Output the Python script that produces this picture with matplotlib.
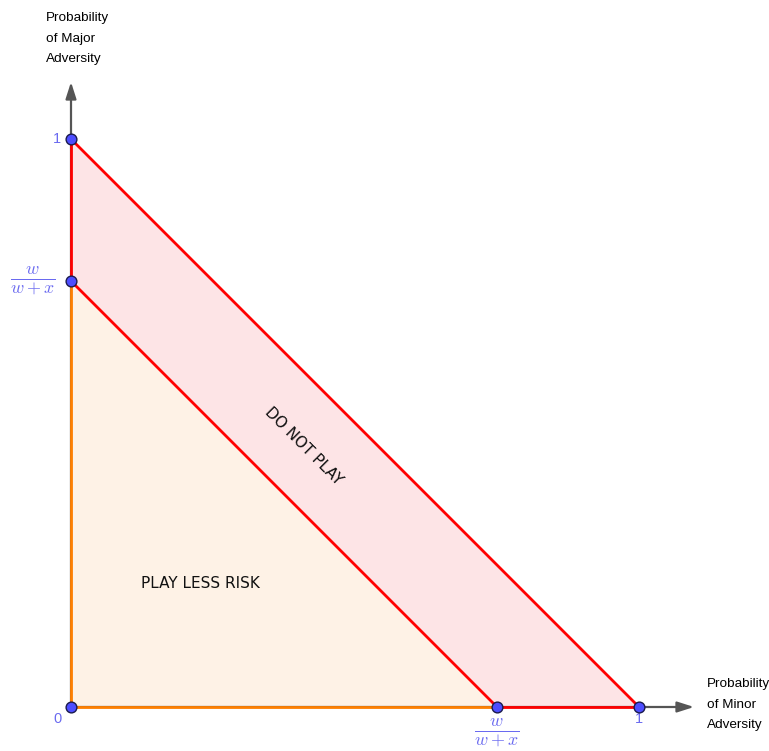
import matplotlib
matplotlib.use("Agg")
import matplotlib.pyplot as plt
from matplotlib.patches import Polygon

plt.rcParams["mathtext.fontset"] = "cm"

# Data
r = 0.75          # w/(w+x)
one = 1.0
outer = [(0, 0), (one, 0), (0, one)]
inner = [(0, 0), (r, 0), (0, r)]
points_x = [0, 0, 0, r, one]
points_y = [0, r, one, 0, 0]

W, H = 769, 751
ox, oy, unit = 71, 707, 568
fig = plt.figure(figsize=(W / 100, H / 100), dpi=100)
ax = fig.add_axes([0, 0, 1, 1])
ax.set_xlim(-ox / unit, (W - ox) / unit)
ax.set_ylim(-(H - oy) / unit, oy / unit)
ax.axis("off")

red = "#ff0000"
orange = "#ff8000"
blue_txt = "#6a6af0"

# fills
ax.add_patch(Polygon([(0, r), (0, one), (one, 0), (r, 0)], closed=True,
                     facecolor="#fde4e6", edgecolor="none", zorder=1))
ax.add_patch(Polygon(inner, closed=True, facecolor="#fef2e6", edgecolor="none", zorder=1))

def px(x):
    return (x - ox) / unit

def py(y):
    return (oy - y) / unit

# axes arrows
arrow = dict(arrowstyle="-|>,head_length=1.0,head_width=0.32", color="#555555", lw=1.6,
             shrinkA=0, shrinkB=0)
ax.annotate("", xy=(px(694), 0), xytext=(0, 0), arrowprops=arrow, zorder=2)
ax.annotate("", xy=(0, py(82)), xytext=(0, 0), arrowprops=arrow, zorder=2)

# boundary lines
ax.plot([0, r], [0, 0], color=orange, lw=2, zorder=3, solid_capstyle="butt")
ax.plot([0, 0], [0, r], color=orange, lw=2, zorder=3, solid_capstyle="butt")
ax.plot([0, r], [r, 0], color=red, lw=2, zorder=3)
ax.plot([0, 0], [r, one], color=red, lw=2, zorder=3)
ax.plot([r, one], [0, 0], color=red, lw=2, zorder=3)
ax.plot([0, one], [one, 0], color=red, lw=2, zorder=3)

# points
ax.scatter(points_x, points_y, s=60, facecolor="#4d4dff", edgecolor="#1a1a4d", linewidth=1.0, zorder=5)

# tick labels
for (x, y, s) in [(57, 139, "1"), (57, 719, "0"), (639, 719, "1")]:
    ax.text(px(x), py(y), s, color=blue_txt, fontsize=10.5, ha="center", va="center",
            family="Liberation Sans")
ax.text(px(33), py(281), r"$\frac{w}{w+x}$", color=blue_txt, fontsize=18.5, ha="center", va="center")
ax.text(px(497), py(733), r"$\frac{w}{w+x}$", color=blue_txt, fontsize=18.5, ha="center", va="center")

# axis titles
ax.text(px(46), py(12), "Probability\nof Major\nAdversity", fontsize=9.7, ha="left", va="top",
        family="Liberation Sans", linespacing=1.95)
ax.text(px(707), py(678), "Probability\nof Minor\nAdversity", fontsize=9.7, ha="left", va="top",
        family="Liberation Sans", linespacing=1.95)

# region labels
ax.text(px(304), py(446), "DO NOT PLAY", fontsize=11, rotation=-45, ha="center", va="center",
        rotation_mode="anchor", color="#111111")
ax.text(px(200), py(584), "PLAY LESS RISK", fontsize=11, ha="center", va="center", color="#111111")

fig.savefig("out.png", dpi=100)
